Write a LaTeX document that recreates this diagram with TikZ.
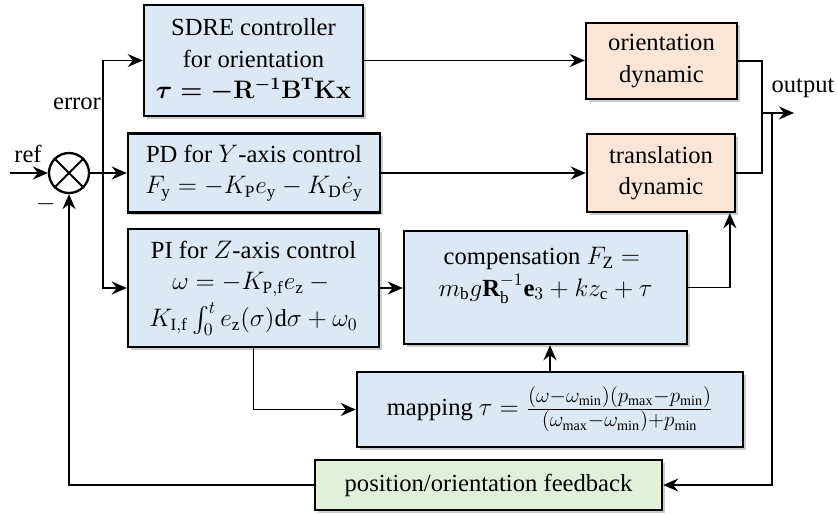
\documentclass[tikz,border=0pt]{standalone}
\usepackage{amsmath}
\usepackage{fontspec}
\setmainfont{Liberation Serif}
\usetikzlibrary{arrows.meta,shadows}
\definecolor{ctrlblue}{RGB}{219,232,245}
\definecolor{plantorange}{RGB}{251,229,214}
\definecolor{fbgreen}{RGB}{226,239,217}
\newcommand{\fracpart}[1]{\mbox{\fontsize{11.5}{13}\selectfont$#1$}}
\begin{document}
\begin{tikzpicture}[scale=0.2, >={Stealth[length=3mm,width=2.6mm,inset=1mm]}]
\tikzstyle{every node}+=[font=\fontsize{14}{18}\selectfont]
\tikzstyle{blk}=[draw=black, line width=1.4pt, align=center, inner sep=0pt, drop shadow={shadow xshift=0.5mm, shadow yshift=-0.5mm, fill=black!40}]
\tikzstyle{ctrl}=[blk, fill=ctrlblue]
\tikzstyle{plant}=[blk, fill=plantorange]
\tikzstyle{fback}=[blk, fill=fbgreen]
\tikzstyle{sig}=[line width=1.1pt]
\useasboundingbox (0,0) rectangle (83.7,-51.3);
% blocks
\node [ctrl, minimum width=4.38cm, minimum height=2.22cm] (sdre) at (25.35,-6.05) {SDRE controller\\for orientation\\{\boldmath$\tau=-\mathbf{R}^{-1}\mathbf{B}^{\mathrm{T}}\mathbf{Kx}$}};
\node [ctrl, minimum width=5.04cm, minimum height=1.58cm] (pd) at (25.4,-17.3) {PD for $Y$-axis control\\$F_{\mathrm{y}}=-K_{\mathrm{P}}e_{\mathrm{y}}-K_{\mathrm{D}}\dot{e}_{\mathrm{y}}$};
\node [ctrl, minimum width=5.02cm, minimum height=2.36cm] (pi) at (25.35,-28.8) {PI for $Z$-axis control\\$\omega=-K_{\mathrm{P,f}}e_{\mathrm{z}}-{}$\\[3pt]$K_{\mathrm{I,f}}\int_0^t e_{\mathrm{z}}(\sigma)\mathrm{d}\sigma+\omega_0$};
\node [ctrl, minimum width=5.66cm, minimum height=2.26cm] (comp) at (54.55,-28.75) {compensation $F_{\mathrm{Z}}={}$\\$m_{\mathrm{b}}g\mathbf{R}_{\mathrm{b}}^{-1}\mathbf{e}_3+kz_{\mathrm{c}}+\tau$\\\mbox{}};
\node [ctrl, minimum width=7.72cm, minimum height=1.5cm] (map) at (55,-40.95) {mapping $\tau=\frac{\fracpart{(\omega{-}\omega_{\min})(p_{\max}{-}p_{\min})}}{\fracpart{(\omega_{\max}{-}\omega_{\min}){+}p_{\min}}}$};
\node [fback, minimum width=6.94cm, minimum height=1.0cm] (fb) at (48.85,-48.5) {position/orientation feedback};
\node [plant, minimum width=3.02cm, minimum height=1.52cm] (od) at (66.15,-6.1) {orientation\\dynamic};
\node [plant, minimum width=2.96cm, minimum height=1.56cm] (td) at (66.1,-17.3) {translation\\dynamic};
% summing junction
\node [draw, circle, line width=1.3pt, minimum size=0.8cm, inner sep=0pt] (sum) at (6.9,-17.3) {};
\draw [sig] (sum.north west) -- (sum.south east);
\draw [sig] (sum.north east) -- (sum.south west);
% labels
\node (reflbl) at (2.8,-15.4) {ref};
\node (errlbl) at (7.7,-10.4) {error};
\node (minus) at (4.6,-20.4) {$-$};
\node (outlbl) at (80.3,-8.8) {output};
\coordinate (in) at (1.0,-17.3);
\coordinate (br) at (10.3,-17.3);
\coordinate (oj) at (76.2,-11.3);
\coordinate (tap) at (77.2,-11.3);
\coordinate (out) at (79.4,-11.3);
% signals
\draw [sig,->] (in) -- (sum);
\draw [sig,->] (sum) -- (pd);
\draw [sig,->] (br) |- (sdre.west);
\draw [sig,->] (br) |- (pi.west);
\draw [sig,->] (sdre.east) -- (sdre.east -| od.west);
\draw [sig,->] (pd) -- (td);
\draw [sig,->] (pi.east) -- (pi.east -| comp.west);
\draw [sig,->] (comp.east) -| ([xshift=-0.64cm]td.south east);
\draw [sig,->] (map.north) -- (map.north |- comp.south);
\draw [sig,->] (pi.south) |- (map.west);
\draw [sig] (od.east) -| (oj);
\draw [sig] (td.east) -| (oj);
\draw [sig,->] (oj) -- (out);
\draw [sig,->] (tap) |- (fb.east);
\draw [sig,->] (fb.west) -| (sum.south);
\end{tikzpicture}
\end{document}
